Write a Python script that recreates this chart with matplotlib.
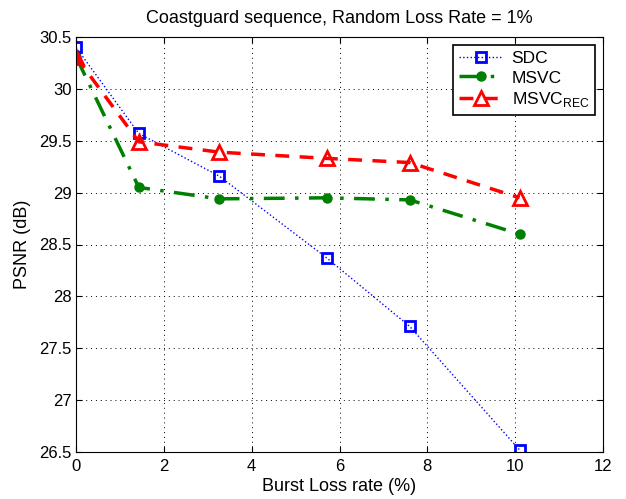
import matplotlib
matplotlib.use("Agg")
import matplotlib.pyplot as plt

plt.rcParams['font.family'] = ['Liberation Sans', 'DejaVu Sans']

burst_rate = [0, 1.43, 3.26, 5.71, 7.6, 10.1]
sdc = [30.40, 29.57, 29.16, 28.37, 27.71, 26.52]
msvc = [30.31, 29.05, 28.94, 28.95, 28.93, 28.60]
msvc_rec = [30.31, 29.49, 29.39, 29.33, 29.29, 28.95]

xticks = [0, 2, 4, 6, 8, 10, 12]
yticks = [26.5, 27, 27.5, 28, 28.5, 29, 29.5, 30, 30.5]

fig = plt.figure(figsize=(6.26, 4.99), dpi=100)
ax = fig.add_axes([76/626, 1-452/499, (603-76)/626, (452-37)/499])

ax.plot(burst_rate, sdc, color='blue', linestyle=':', linewidth=1.0,
        marker='s', markersize=7, markerfacecolor='none', markeredgewidth=2, label='SDC')
ax.plot(burst_rate, msvc, color='green', linestyle='-.', linewidth=2.5, dashes=(6, 3, 1, 3),
        marker='o', markersize=6, markerfacecolor='green', markeredgewidth=1.5, label='MSVC')
ax.plot(burst_rate, msvc_rec, color='red', linestyle='--', linewidth=2.5, dashes=(4, 3),
        marker='^', markersize=10, markerfacecolor='none', markeredgewidth=2, label='MSVC$_{\\mathregular{REC}}$')

ax.set_xlim(0, 12)
ax.set_ylim(26.5, 30.5)
ax.set_xticks(xticks)
ax.set_yticks(yticks)
ax.set_yticklabels([f"{v:g}" for v in yticks])
ax.tick_params(direction='in', labelsize=12, length=4, top=True, right=True)
ax.tick_params(axis='x', pad=5)
ax.tick_params(axis='y', pad=3)
ax.grid(True, linestyle=(0, (1, 4)), color='black', linewidth=0.7)
ax.set_xlabel('Burst Loss rate (%)', fontsize=13, labelpad=3)
ax.set_ylabel('PSNR (dB)', fontsize=13, labelpad=6)
ax.set_title('Coastguard sequence, Random Loss Rate = 1%', fontsize=13, pad=10)

leg = ax.legend(loc='upper right', fontsize=12.5, fancybox=False, edgecolor='black',
                framealpha=1, handlelength=2.5, borderaxespad=0.45, borderpad=0.35,
                labelspacing=0.25, handletextpad=0.5)
leg.get_frame().set_linewidth(1.2)

fig.savefig('out.png', dpi=100)
